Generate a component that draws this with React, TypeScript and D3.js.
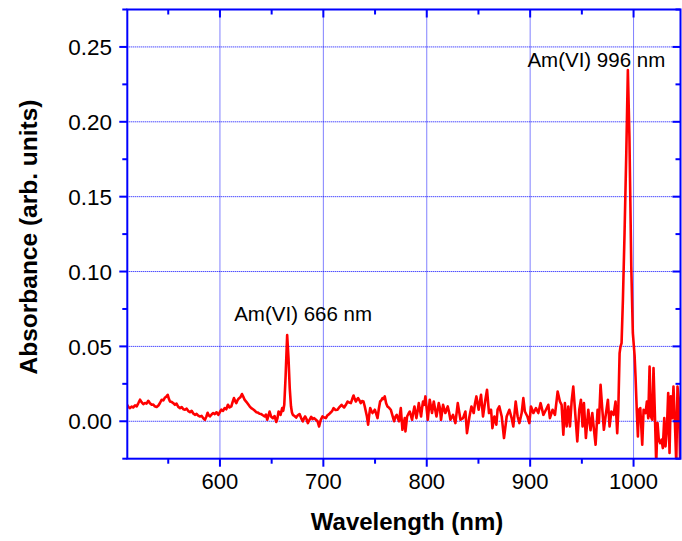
import React from "react";
import * as d3 from "d3";

const wavelength: number[] = [
  510.1, 511.5, 513.0, 514.5, 516.0, 517.9, 519.5, 521.0, 522.7, 524.2, 525.9, 527.5, 529.0, 530.7, 532.3, 534.0,
  535.5, 537.0, 538.8, 540.5, 542.0, 543.7, 545.3, 546.9, 548.2, 549.5, 550.6, 551.7, 553.5, 555.0, 556.5, 558.0,
  559.7, 561.4, 563.0, 564.6, 566.2, 567.8, 569.4, 571.0, 572.6, 574.2, 575.8, 577.4, 579.0, 580.7, 582.3, 583.9,
  585.5, 586.8, 588.1, 589.2, 590.3, 591.9, 593.5, 595.0, 596.7, 598.4, 599.8, 601.3, 603.0, 604.5, 606.1, 607.7,
  609.3, 611.0, 612.3, 613.5, 614.7, 615.8, 617.0, 618.0, 619.7, 621.3, 622.5, 623.8, 625.5, 627.1, 628.7, 630.3,
  632.0, 633.5, 635.1, 636.7, 638.3, 639.9, 641.5, 643.2, 644.5, 645.7, 647.0, 648.0, 649.6, 651.2, 652.8, 654.4,
  655.6, 656.7, 658.6, 660.2, 661.2, 662.2, 663.5, 665.0, 666.3, 667.5, 668.7, 669.6, 670.5, 672.1, 673.7, 675.3,
  677.0, 678.6, 680.2, 681.3, 682.4, 683.7, 685.0, 686.6, 688.2, 689.5, 691.1, 692.8, 694.4, 695.9, 697.5, 699.2,
  700.8, 702.4, 704.0, 705.6, 707.3, 708.6, 709.9, 711.8, 713.7, 715.6, 717.6, 718.9, 720.1, 721.8, 723.4, 725.0,
  726.6, 728.0, 729.2, 730.3, 731.4, 732.5, 733.6, 734.9, 736.2, 737.5, 738.8, 740.0, 741.1, 742.2, 743.3, 744.3,
  745.3, 746.4, 747.5, 748.7, 749.8, 751.1, 752.4, 753.6, 754.9, 756.0, 757.2, 758.3, 759.4, 760.7, 762.0, 763.6,
  765.2, 766.8, 768.4, 769.7, 771.0, 772.1, 773.2, 774.9, 776.5, 777.8, 778.7, 779.4, 781.0, 782.3, 783.6, 785.8,
  787.0, 788.1, 790.0, 791.2, 792.3, 794.5, 795.5, 796.4, 797.5, 798.7, 801.0, 802.9, 805.1, 806.8, 808.1, 809.4,
  811.6, 812.7, 813.8, 815.8, 818.0, 820.3, 821.6, 822.9, 825.4, 827.7, 830.0, 832.6, 835.1, 837.4, 838.9, 841.3,
  843.2, 845.4, 846.7, 848.0, 850.2, 852.5, 854.4, 856.7, 858.3, 860.2, 862.2, 863.5, 865.4, 867.3, 868.5, 870.2,
  872.5, 874.7, 877.3, 879.9, 882.1, 883.7, 886.0, 887.9, 889.6, 891.8, 893.4, 894.9, 897.3, 899.2, 900.8, 903.1,
  905.6, 907.9, 910.1, 912.8, 915.3, 917.6, 919.1, 921.7, 924.0, 926.6, 928.8, 930.4, 932.1, 933.6, 935.3, 936.9,
  938.5, 940.1, 941.7, 943.7, 945.6, 947.5, 949.1, 950.7, 952.0, 953.9, 956.2, 958.4, 960.1, 961.4, 963.3, 965.2,
  966.5, 968.1, 969.8, 971.3, 972.9, 975.2, 976.8, 978.5, 980.7, 982.6, 984.2, 985.2, 986.5, 987.4, 988.4, 989.7,
  991.3, 993.0, 994.5, 996.0, 997.8, 999.3, 1001.0, 1001.9, 1003.2, 1004.2, 1005.1, 1006.5, 1008.4, 1009.7, 1011.6, 1012.9,
  1014.2, 1015.5, 1016.7, 1018.1, 1019.3, 1020.6, 1021.9, 1023.2, 1024.4, 1025.8, 1027.1, 1028.3, 1029.7, 1030.9, 1032.2, 1033.5,
  1034.8, 1036.0, 1037.4, 1038.6, 1039.9, 1041.3, 1042.5, 1043.8, 1045.1,
];

const absorbance: number[] = [
  0.011, 0.0095, 0.0088, 0.0098, 0.0092, 0.0106, 0.01, 0.012, 0.0144, 0.0128, 0.0115, 0.0122, 0.0118, 0.0137, 0.012, 0.011,
  0.0112, 0.01, 0.0095, 0.0105, 0.0122, 0.0144, 0.014, 0.0159, 0.0165, 0.0177, 0.015, 0.0132, 0.0128, 0.012, 0.011, 0.0118,
  0.0096, 0.0088, 0.0095, 0.008, 0.0077, 0.0084, 0.0068, 0.0061, 0.007, 0.0052, 0.0043, 0.005, 0.0038, 0.0032, 0.0036, 0.002,
  0.001, 0.003, 0.0057, 0.004, 0.0032, 0.0045, 0.0055, 0.0048, 0.006, 0.0043, 0.006, 0.0077, 0.007, 0.0088, 0.008, 0.011,
  0.0092, 0.0099, 0.013, 0.0155, 0.0135, 0.0121, 0.014, 0.015, 0.016, 0.0182, 0.0165, 0.0144, 0.013, 0.0115, 0.01, 0.0088,
  0.008, 0.0072, 0.0061, 0.0058, 0.005, 0.0048, 0.004, 0.0032, 0.0045, 0.001, 0.004, 0.0065, 0.003, 0.0021, 0.0035, -0.0005,
  0.002, 0.0065, 0.0043, 0.0088, 0.007, 0.011, 0.03, 0.0575, 0.042, 0.022, 0.01, 0.006, 0.0043, 0.0035, 0.0025, 0.004,
  0.0048, 0.002, 0.0, 0.002, 0.0032, 0.0015, -0.0012, 0.001, 0.003, 0.0015, 0.0021, 0.001, 0.0, -0.0035, 0.001, 0.0032,
  0.0025, 0.0021, 0.004, 0.0048, 0.006, 0.007, 0.0088, 0.0075, 0.0077, 0.0095, 0.011, 0.01, 0.0092, 0.011, 0.0132, 0.0125,
  0.0121, 0.015, 0.0172, 0.015, 0.0132, 0.0145, 0.0155, 0.014, 0.0121, 0.0135, 0.0132, 0.01, 0.0065, 0.003, -0.0023, 0.004,
  0.0088, 0.007, 0.0055, 0.0065, 0.0077, 0.005, 0.0021, 0.008, 0.0132, 0.014, 0.0155, 0.015, 0.0166, 0.012, 0.0099, 0.009,
  0.0077, 0.004, 0.0, 0.003, 0.0043, 0.002, 0.0, 0.0088, -0.0057, -0.0012, 0.0021, -0.0068, 0.0032, 0.005, 0.0065, 0.001,
  0.006, 0.0099, 0.0021, 0.007, 0.0121, 0.0032, 0.009, 0.0132, 0.011, 0.0166, 0.001, 0.0144, 0.0055, 0.0132, 0.008, 0.0032,
  0.0121, 0.009, 0.001, 0.011, 0.0055, 0.0099, 0.006, 0.001, 0.0043, -0.0012, 0.0121, 0.001, 0.0021, 0.0065, -0.0079, 0.0032,
  0.0099, 0.0055, 0.012, 0.0166, 0.0077, 0.0177, 0.0032, 0.0144, 0.021, 0.0055, 0.0077, -0.0046, 0.0032, -0.0023, 0.0077, 0.0099,
  0.0032, -0.0112, 0.0032, 0.0077, 0.0021, -0.0035, 0.0132, 0.0032, -0.0012, 0.0055, 0.0155, 0.0065, 0.0032, -0.0012, 0.0099, 0.0055,
  0.0088, 0.0055, 0.0121, 0.0043, 0.0077, 0.011, 0.0021, 0.0077, 0.0043, 0.0199, 0.0132, 0.011, -0.009, 0.0121, -0.0035, 0.0099,
  -0.0035, 0.0132, 0.0232, 0.0043, -0.0135, 0.0077, 0.0144, -0.0035, 0.0121, -0.0112, 0.0077, -0.006, 0.0055, -0.0035, -0.0157, 0.0077,
  -0.0012, 0.0244, 0.0077, -0.0057, 0.0032, 0.0144, -0.0035, 0.0065, 0.0043, 0.0132, -0.0079, 0.0065, 0.0455, 0.0499, 0.0522, 0.081,
  0.126, 0.18, 0.2346, 0.19, 0.103, 0.059, 0.044, 0.03, 0.0055, -0.0101, 0.0077, 0.0088, -0.0157, 0.0077, 0.0055, 0.0132,
  0.0021, 0.0366, 0.0032, 0.001, 0.0355, 0.0055, -0.028, -0.0012, -0.0123, -0.0146, -0.0123, -0.0179, 0.0021, -0.0168, -0.0057, 0.0188,
  -0.0212, 0.0166, 0.0021, 0.0232, 0.001, -0.028, 0.0232, 0.0144, -0.028,
];

const xMajorTicks = [600, 700, 800, 900, 1000];
const xMinorTicks = [550, 650, 750, 850, 950];
const yMajorTicks = [0, 0.05, 0.1, 0.15, 0.2, 0.25];
const yMinorTicks = [-0.025, 0.025, 0.075, 0.125, 0.175, 0.225, 0.275];

const annotations = [
  { text: "Am(VI) 666 nm", x: 666, y: 0.0577 },
  { text: "Am(VI) 996 nm", x: 996, y: 0.2346 },
];

const W = 682;
const H = 541;
const L = 127.3;
const R = 680.5;
const T = 9.5;
const B = 458.7;
const BLUE = "#0000ff";
const FONT = "Arial, 'Liberation Sans', sans-serif";

export default function App() {
  const x = d3.scaleLinear().domain([510.4, 1045.4]).range([L, R]);
  const y = d3.scaleLinear().domain([-0.025, 0.275]).range([B, T]);
  const pts = wavelength.map((w, i) => [w, absorbance[i]] as [number, number]);
  const line = d3
    .line<[number, number]>()
    .x((d) => x(d[0]))
    .y((d) => y(d[1]));

  return (
    <svg
      width={W}
      height={H}
      style={{ position: "absolute", left: 0, top: 0, background: "#fff" }}
      fontFamily={FONT}
    >
      <defs>
        <clipPath id="plotclip">
          <rect x={L} y={T} width={R - L} height={B - T} />
        </clipPath>
      </defs>
      {xMajorTicks.map((t) => (
        <line key={"gx" + t} x1={x(t)} x2={x(t)} y1={T} y2={B} stroke={BLUE} strokeWidth={1} strokeDasharray="1,1" />
      ))}
      {yMajorTicks.map((t) => (
        <line key={"gy" + t} x1={L} x2={R} y1={y(t)} y2={y(t)} stroke={BLUE} strokeWidth={1} strokeDasharray="1,1" />
      ))}
      <path d={line(pts) || ""} fill="none" stroke="#ff0000" strokeWidth={2.6} strokeLinejoin="round" clipPath="url(#plotclip)" />
      <rect x={L} y={T} width={R - L} height={B - T} fill="none" stroke={BLUE} strokeWidth={2} />
      {xMajorTicks.map((t) => (
        <g key={"xt" + t}>
          <line x1={x(t)} x2={x(t)} y1={B} y2={B + 8} stroke={BLUE} strokeWidth={2} />
          <line x1={x(t)} x2={x(t)} y1={T} y2={T + 8} stroke={BLUE} strokeWidth={2} />
          <text x={x(t)} y={489} textAnchor="middle" fontSize={22} fill="#000">
            {t}
          </text>
        </g>
      ))}
      {xMinorTicks.map((t) => (
        <g key={"xm" + t}>
          <line x1={x(t)} x2={x(t)} y1={B} y2={B + 5} stroke={BLUE} strokeWidth={2} />
          <line x1={x(t)} x2={x(t)} y1={T} y2={T + 5} stroke={BLUE} strokeWidth={2} />
        </g>
      ))}
      {yMajorTicks.map((t) => (
        <g key={"yt" + t}>
          <line x1={L} x2={L - 8} y1={y(t)} y2={y(t)} stroke={BLUE} strokeWidth={2} />
          <line x1={R} x2={R - 8} y1={y(t)} y2={y(t)} stroke={BLUE} strokeWidth={2} />
          <text x={112} y={y(t)} dy="0.36em" textAnchor="end" fontSize={22.5} fill="#000">
            {d3.format(".2f")(t)}
          </text>
        </g>
      ))}
      {yMinorTicks.map((t) => (
        <g key={"ym" + t}>
          <line x1={L} x2={L - 5} y1={y(t)} y2={y(t)} stroke={BLUE} strokeWidth={2} />
          <line x1={R} x2={R - 5} y1={y(t)} y2={y(t)} stroke={BLUE} strokeWidth={2} />
        </g>
      ))}
      <text x={x(annotations[0].x) - 54} y={y(annotations[0].y) - 14} fontSize={20.5} fill="#000">
        {annotations[0].text}
      </text>
      <text x={x(annotations[1].x) - 102} y={y(annotations[1].y) - 3} fontSize={20.5} fill="#000">
        {annotations[1].text}
      </text>
      <text x={407} y={530} textAnchor="middle" fontSize={24} fontWeight="bold" fill="#000">
        Wavelength (nm)
      </text>
      <text
        transform={`translate(37, ${237}) rotate(-90)`}
        textAnchor="middle"
        fontSize={24.5}
        fontWeight="bold"
        fill="#000"
      >
        Absorbance (arb. units)
      </text>
    </svg>
  );
}
